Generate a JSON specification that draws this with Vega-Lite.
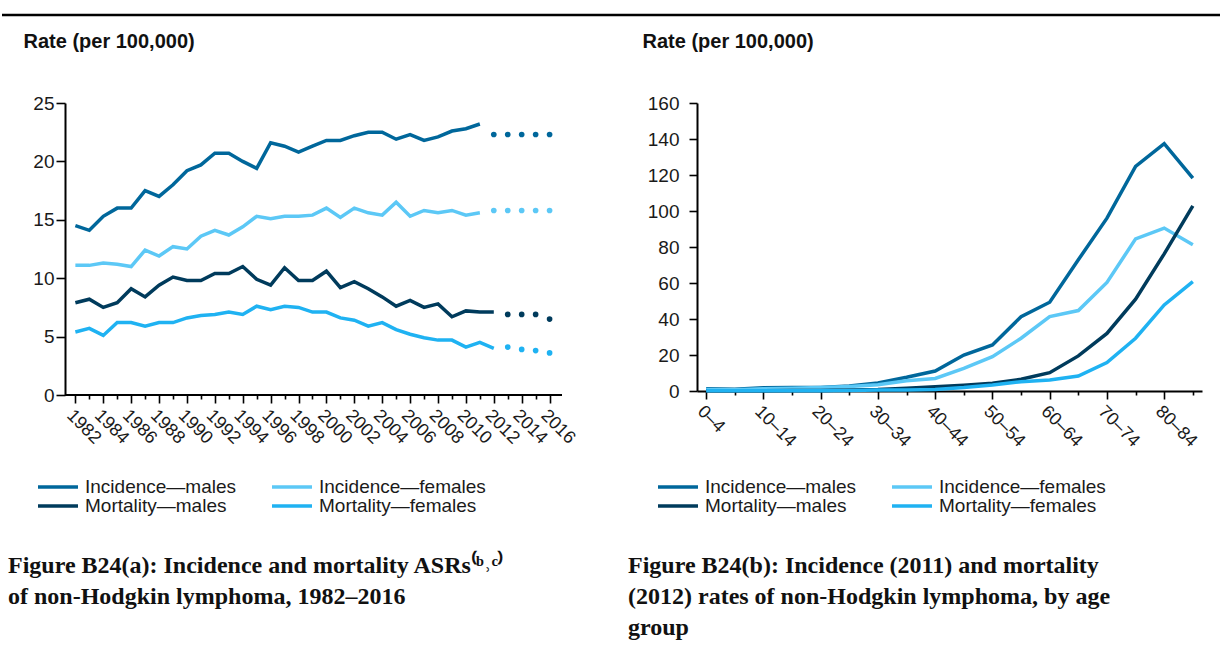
{
  "$schema": "https://vega.github.io/schema/vega-lite/v6.json",
  "background": "white",
  "padding": {"top": 13, "left": 0, "right": 0, "bottom": 0},
  "config": {
    "font": "Liberation Sans",
    "view": {"stroke": null},
    "axis": {
      "labelColor": "#1a1a1a",
      "labelFontSize": 19,
      "labelFont": "Liberation Sans",
      "labelOverlap": false,
      "domainColor": "#000000",
      "domainWidth": 2,
      "tickColor": "#000000",
      "tickWidth": 1.6,
      "grid": false
    },
    "legend": {
      "labelFont": "Liberation Sans",
      "labelFontSize": 19,
      "labelColor": "#1a1a1a"
    }
  },
  "datasets": {
    "trend": [
      {"Year": 1982, "Series": "Incidence—males", "Rate": 14.5},
      {"Year": 1983, "Series": "Incidence—males", "Rate": 14.1},
      {"Year": 1984, "Series": "Incidence—males", "Rate": 15.3},
      {"Year": 1985, "Series": "Incidence—males", "Rate": 16.0},
      {"Year": 1986, "Series": "Incidence—males", "Rate": 16.0},
      {"Year": 1987, "Series": "Incidence—males", "Rate": 17.5},
      {"Year": 1988, "Series": "Incidence—males", "Rate": 17.0},
      {"Year": 1989, "Series": "Incidence—males", "Rate": 18.0},
      {"Year": 1990, "Series": "Incidence—males", "Rate": 19.2},
      {"Year": 1991, "Series": "Incidence—males", "Rate": 19.7},
      {"Year": 1992, "Series": "Incidence—males", "Rate": 20.7},
      {"Year": 1993, "Series": "Incidence—males", "Rate": 20.7},
      {"Year": 1994, "Series": "Incidence—males", "Rate": 20.0},
      {"Year": 1995, "Series": "Incidence—males", "Rate": 19.4},
      {"Year": 1996, "Series": "Incidence—males", "Rate": 21.6},
      {"Year": 1997, "Series": "Incidence—males", "Rate": 21.3},
      {"Year": 1998, "Series": "Incidence—males", "Rate": 20.8},
      {"Year": 1999, "Series": "Incidence—males", "Rate": 21.3},
      {"Year": 2000, "Series": "Incidence—males", "Rate": 21.8},
      {"Year": 2001, "Series": "Incidence—males", "Rate": 21.8},
      {"Year": 2002, "Series": "Incidence—males", "Rate": 22.2},
      {"Year": 2003, "Series": "Incidence—males", "Rate": 22.5},
      {"Year": 2004, "Series": "Incidence—males", "Rate": 22.5},
      {"Year": 2005, "Series": "Incidence—males", "Rate": 21.9},
      {"Year": 2006, "Series": "Incidence—males", "Rate": 22.3},
      {"Year": 2007, "Series": "Incidence—males", "Rate": 21.8},
      {"Year": 2008, "Series": "Incidence—males", "Rate": 22.1},
      {"Year": 2009, "Series": "Incidence—males", "Rate": 22.6},
      {"Year": 2010, "Series": "Incidence—males", "Rate": 22.8},
      {"Year": 2011, "Series": "Incidence—males", "Rate": 23.2},
      {"Year": 1982, "Series": "Incidence—females", "Rate": 11.1},
      {"Year": 1983, "Series": "Incidence—females", "Rate": 11.1},
      {"Year": 1984, "Series": "Incidence—females", "Rate": 11.3},
      {"Year": 1985, "Series": "Incidence—females", "Rate": 11.2},
      {"Year": 1986, "Series": "Incidence—females", "Rate": 11.0},
      {"Year": 1987, "Series": "Incidence—females", "Rate": 12.4},
      {"Year": 1988, "Series": "Incidence—females", "Rate": 11.9},
      {"Year": 1989, "Series": "Incidence—females", "Rate": 12.7},
      {"Year": 1990, "Series": "Incidence—females", "Rate": 12.5},
      {"Year": 1991, "Series": "Incidence—females", "Rate": 13.6},
      {"Year": 1992, "Series": "Incidence—females", "Rate": 14.1},
      {"Year": 1993, "Series": "Incidence—females", "Rate": 13.7},
      {"Year": 1994, "Series": "Incidence—females", "Rate": 14.4},
      {"Year": 1995, "Series": "Incidence—females", "Rate": 15.3},
      {"Year": 1996, "Series": "Incidence—females", "Rate": 15.1},
      {"Year": 1997, "Series": "Incidence—females", "Rate": 15.3},
      {"Year": 1998, "Series": "Incidence—females", "Rate": 15.3},
      {"Year": 1999, "Series": "Incidence—females", "Rate": 15.4},
      {"Year": 2000, "Series": "Incidence—females", "Rate": 16.0},
      {"Year": 2001, "Series": "Incidence—females", "Rate": 15.2},
      {"Year": 2002, "Series": "Incidence—females", "Rate": 16.0},
      {"Year": 2003, "Series": "Incidence—females", "Rate": 15.6},
      {"Year": 2004, "Series": "Incidence—females", "Rate": 15.4},
      {"Year": 2005, "Series": "Incidence—females", "Rate": 16.5},
      {"Year": 2006, "Series": "Incidence—females", "Rate": 15.3},
      {"Year": 2007, "Series": "Incidence—females", "Rate": 15.8},
      {"Year": 2008, "Series": "Incidence—females", "Rate": 15.6},
      {"Year": 2009, "Series": "Incidence—females", "Rate": 15.8},
      {"Year": 2010, "Series": "Incidence—females", "Rate": 15.4},
      {"Year": 2011, "Series": "Incidence—females", "Rate": 15.6},
      {"Year": 1982, "Series": "Mortality—males", "Rate": 7.9},
      {"Year": 1983, "Series": "Mortality—males", "Rate": 8.2},
      {"Year": 1984, "Series": "Mortality—males", "Rate": 7.5},
      {"Year": 1985, "Series": "Mortality—males", "Rate": 7.9},
      {"Year": 1986, "Series": "Mortality—males", "Rate": 9.1},
      {"Year": 1987, "Series": "Mortality—males", "Rate": 8.4},
      {"Year": 1988, "Series": "Mortality—males", "Rate": 9.4},
      {"Year": 1989, "Series": "Mortality—males", "Rate": 10.1},
      {"Year": 1990, "Series": "Mortality—males", "Rate": 9.8},
      {"Year": 1991, "Series": "Mortality—males", "Rate": 9.8},
      {"Year": 1992, "Series": "Mortality—males", "Rate": 10.4},
      {"Year": 1993, "Series": "Mortality—males", "Rate": 10.4},
      {"Year": 1994, "Series": "Mortality—males", "Rate": 11.0},
      {"Year": 1995, "Series": "Mortality—males", "Rate": 9.9},
      {"Year": 1996, "Series": "Mortality—males", "Rate": 9.4},
      {"Year": 1997, "Series": "Mortality—males", "Rate": 10.9},
      {"Year": 1998, "Series": "Mortality—males", "Rate": 9.8},
      {"Year": 1999, "Series": "Mortality—males", "Rate": 9.8},
      {"Year": 2000, "Series": "Mortality—males", "Rate": 10.6},
      {"Year": 2001, "Series": "Mortality—males", "Rate": 9.2},
      {"Year": 2002, "Series": "Mortality—males", "Rate": 9.7},
      {"Year": 2003, "Series": "Mortality—males", "Rate": 9.1},
      {"Year": 2004, "Series": "Mortality—males", "Rate": 8.4},
      {"Year": 2005, "Series": "Mortality—males", "Rate": 7.6},
      {"Year": 2006, "Series": "Mortality—males", "Rate": 8.1},
      {"Year": 2007, "Series": "Mortality—males", "Rate": 7.5},
      {"Year": 2008, "Series": "Mortality—males", "Rate": 7.8},
      {"Year": 2009, "Series": "Mortality—males", "Rate": 6.7},
      {"Year": 2010, "Series": "Mortality—males", "Rate": 7.2},
      {"Year": 2011, "Series": "Mortality—males", "Rate": 7.1},
      {"Year": 2012, "Series": "Mortality—males", "Rate": 7.1},
      {"Year": 1982, "Series": "Mortality—females", "Rate": 5.4},
      {"Year": 1983, "Series": "Mortality—females", "Rate": 5.7},
      {"Year": 1984, "Series": "Mortality—females", "Rate": 5.1},
      {"Year": 1985, "Series": "Mortality—females", "Rate": 6.2},
      {"Year": 1986, "Series": "Mortality—females", "Rate": 6.2},
      {"Year": 1987, "Series": "Mortality—females", "Rate": 5.9},
      {"Year": 1988, "Series": "Mortality—females", "Rate": 6.2},
      {"Year": 1989, "Series": "Mortality—females", "Rate": 6.2},
      {"Year": 1990, "Series": "Mortality—females", "Rate": 6.6},
      {"Year": 1991, "Series": "Mortality—females", "Rate": 6.8},
      {"Year": 1992, "Series": "Mortality—females", "Rate": 6.9},
      {"Year": 1993, "Series": "Mortality—females", "Rate": 7.1},
      {"Year": 1994, "Series": "Mortality—females", "Rate": 6.9},
      {"Year": 1995, "Series": "Mortality—females", "Rate": 7.6},
      {"Year": 1996, "Series": "Mortality—females", "Rate": 7.3},
      {"Year": 1997, "Series": "Mortality—females", "Rate": 7.6},
      {"Year": 1998, "Series": "Mortality—females", "Rate": 7.5},
      {"Year": 1999, "Series": "Mortality—females", "Rate": 7.1},
      {"Year": 2000, "Series": "Mortality—females", "Rate": 7.1},
      {"Year": 2001, "Series": "Mortality—females", "Rate": 6.6},
      {"Year": 2002, "Series": "Mortality—females", "Rate": 6.4},
      {"Year": 2003, "Series": "Mortality—females", "Rate": 5.9},
      {"Year": 2004, "Series": "Mortality—females", "Rate": 6.2},
      {"Year": 2005, "Series": "Mortality—females", "Rate": 5.6},
      {"Year": 2006, "Series": "Mortality—females", "Rate": 5.2},
      {"Year": 2007, "Series": "Mortality—females", "Rate": 4.9},
      {"Year": 2008, "Series": "Mortality—females", "Rate": 4.7},
      {"Year": 2009, "Series": "Mortality—females", "Rate": 4.7},
      {"Year": 2010, "Series": "Mortality—females", "Rate": 4.1},
      {"Year": 2011, "Series": "Mortality—females", "Rate": 4.5},
      {"Year": 2012, "Series": "Mortality—females", "Rate": 4.0}
    ],
    "projected": [
      {"Year": 2012, "Series": "Incidence—males", "Rate": 22.3},
      {"Year": 2013, "Series": "Incidence—males", "Rate": 22.3},
      {"Year": 2014, "Series": "Incidence—males", "Rate": 22.3},
      {"Year": 2015, "Series": "Incidence—males", "Rate": 22.3},
      {"Year": 2016, "Series": "Incidence—males", "Rate": 22.3},
      {"Year": 2012, "Series": "Incidence—females", "Rate": 15.8},
      {"Year": 2013, "Series": "Incidence—females", "Rate": 15.8},
      {"Year": 2014, "Series": "Incidence—females", "Rate": 15.8},
      {"Year": 2015, "Series": "Incidence—females", "Rate": 15.8},
      {"Year": 2016, "Series": "Incidence—females", "Rate": 15.8},
      {"Year": 2013, "Series": "Mortality—males", "Rate": 6.9},
      {"Year": 2014, "Series": "Mortality—males", "Rate": 6.9},
      {"Year": 2015, "Series": "Mortality—males", "Rate": 6.9},
      {"Year": 2016, "Series": "Mortality—males", "Rate": 6.5},
      {"Year": 2013, "Series": "Mortality—females", "Rate": 4.1},
      {"Year": 2014, "Series": "Mortality—females", "Rate": 3.9},
      {"Year": 2015, "Series": "Mortality—females", "Rate": 3.8},
      {"Year": 2016, "Series": "Mortality—females", "Rate": 3.6}
    ],
    "baseline": [
      {"Year": 1981.26, "YearEnd": 2016.89, "Rate": 0}
    ],
    "byAge": [
      {"Age": "0–4", "Series": "Incidence—males", "Rate": 1.2},
      {"Age": "5–9", "Series": "Incidence—males", "Rate": 1.0},
      {"Age": "10–14", "Series": "Incidence—males", "Rate": 1.8},
      {"Age": "15–19", "Series": "Incidence—males", "Rate": 1.9},
      {"Age": "20–24", "Series": "Incidence—males", "Rate": 2.0},
      {"Age": "25–29", "Series": "Incidence—males", "Rate": 2.8},
      {"Age": "30–34", "Series": "Incidence—males", "Rate": 4.5},
      {"Age": "35–39", "Series": "Incidence—males", "Rate": 7.6},
      {"Age": "40–44", "Series": "Incidence—males", "Rate": 11.1},
      {"Age": "45–49", "Series": "Incidence—males", "Rate": 20.0},
      {"Age": "50–54", "Series": "Incidence—males", "Rate": 25.6},
      {"Age": "55–59", "Series": "Incidence—males", "Rate": 41.3},
      {"Age": "60–64", "Series": "Incidence—males", "Rate": 49.3},
      {"Age": "65–69", "Series": "Incidence—males", "Rate": 72.9},
      {"Age": "70–74", "Series": "Incidence—males", "Rate": 96.0},
      {"Age": "75–79", "Series": "Incidence—males", "Rate": 124.8},
      {"Age": "80–84", "Series": "Incidence—males", "Rate": 137.4},
      {"Age": "85+", "Series": "Incidence—males", "Rate": 118.3},
      {"Age": "0–4", "Series": "Incidence—females", "Rate": 0.8},
      {"Age": "5–9", "Series": "Incidence—females", "Rate": 0.7},
      {"Age": "10–14", "Series": "Incidence—females", "Rate": 1.2},
      {"Age": "15–19", "Series": "Incidence—females", "Rate": 1.5},
      {"Age": "20–24", "Series": "Incidence—females", "Rate": 2.0},
      {"Age": "25–29", "Series": "Incidence—females", "Rate": 2.5},
      {"Age": "30–34", "Series": "Incidence—females", "Rate": 3.5},
      {"Age": "35–39", "Series": "Incidence—females", "Rate": 5.7},
      {"Age": "40–44", "Series": "Incidence—females", "Rate": 7.0},
      {"Age": "45–49", "Series": "Incidence—females", "Rate": 12.6},
      {"Age": "50–54", "Series": "Incidence—females", "Rate": 19.1},
      {"Age": "55–59", "Series": "Incidence—females", "Rate": 29.3},
      {"Age": "60–64", "Series": "Incidence—females", "Rate": 41.3},
      {"Age": "65–69", "Series": "Incidence—females", "Rate": 44.7},
      {"Age": "70–74", "Series": "Incidence—females", "Rate": 60.3},
      {"Age": "75–79", "Series": "Incidence—females", "Rate": 84.5},
      {"Age": "80–84", "Series": "Incidence—females", "Rate": 90.5},
      {"Age": "85+", "Series": "Incidence—females", "Rate": 81.2},
      {"Age": "0–4", "Series": "Mortality—males", "Rate": 0.1},
      {"Age": "5–9", "Series": "Mortality—males", "Rate": 0.1},
      {"Age": "10–14", "Series": "Mortality—males", "Rate": 0.2},
      {"Age": "15–19", "Series": "Mortality—males", "Rate": 0.3},
      {"Age": "20–24", "Series": "Mortality—males", "Rate": 0.3},
      {"Age": "25–29", "Series": "Mortality—males", "Rate": 0.5},
      {"Age": "30–34", "Series": "Mortality—males", "Rate": 0.8},
      {"Age": "35–39", "Series": "Mortality—males", "Rate": 1.5},
      {"Age": "40–44", "Series": "Mortality—males", "Rate": 2.4},
      {"Age": "45–49", "Series": "Mortality—males", "Rate": 3.2},
      {"Age": "50–54", "Series": "Mortality—males", "Rate": 4.3},
      {"Age": "55–59", "Series": "Mortality—males", "Rate": 6.5},
      {"Age": "60–64", "Series": "Mortality—males", "Rate": 10.2},
      {"Age": "65–69", "Series": "Mortality—males", "Rate": 19.5},
      {"Age": "70–74", "Series": "Mortality—males", "Rate": 32.0},
      {"Age": "75–79", "Series": "Mortality—males", "Rate": 51.0},
      {"Age": "80–84", "Series": "Mortality—males", "Rate": 76.2},
      {"Age": "85+", "Series": "Mortality—males", "Rate": 102.9},
      {"Age": "0–4", "Series": "Mortality—females", "Rate": 0.1},
      {"Age": "5–9", "Series": "Mortality—females", "Rate": 0.1},
      {"Age": "10–14", "Series": "Mortality—females", "Rate": 0.1},
      {"Age": "15–19", "Series": "Mortality—females", "Rate": 0.2},
      {"Age": "20–24", "Series": "Mortality—females", "Rate": 0.2},
      {"Age": "25–29", "Series": "Mortality—females", "Rate": 0.3},
      {"Age": "30–34", "Series": "Mortality—females", "Rate": 0.5},
      {"Age": "35–39", "Series": "Mortality—females", "Rate": 0.6},
      {"Age": "40–44", "Series": "Mortality—females", "Rate": 0.9},
      {"Age": "45–49", "Series": "Mortality—females", "Rate": 1.9},
      {"Age": "50–54", "Series": "Mortality—females", "Rate": 3.3},
      {"Age": "55–59", "Series": "Mortality—females", "Rate": 5.2},
      {"Age": "60–64", "Series": "Mortality—females", "Rate": 6.1},
      {"Age": "65–69", "Series": "Mortality—females", "Rate": 8.3},
      {"Age": "70–74", "Series": "Mortality—females", "Rate": 15.8},
      {"Age": "75–79", "Series": "Mortality—females", "Rate": 29.3},
      {"Age": "80–84", "Series": "Mortality—females", "Rate": 47.8},
      {"Age": "85+", "Series": "Mortality—females", "Rate": 60.8}
    ]
  },
  "spacing": 14,
  "vconcat": [
    {
      "width": 1220,
      "height": 1,
      "data": {"values": [{"rule": "header"}]},
      "mark": {"type": "rule", "color": "#000000", "strokeWidth": 2.5},
      "encoding": {
        "y": {"datum": 1, "type": "quantitative", "axis": null, "scale": {"domain": [0, 1]}}
      }
    },
    {
      "bounds": "flush",
      "spacing": 135,
      "resolve": {"legend": {"color": "independent", "strokeWidth": "independent"}},
      "hconcat": [
        {
          "width": 560,
          "height": 292,
          "title": {
            "text": ["Figure B24(a): Incidence and mortality ASRs⁽ᵇ˒ᶜ⁾", "of non-Hodgkin lymphoma, 1982–2016"],
            "orient": "bottom",
            "anchor": "start",
            "frame": "group",
            "dx": 6,
            "offset": 38,
            "font": "Liberation Serif",
            "fontSize": 24,
            "fontWeight": "bold",
            "color": "#111111",
            "lineHeight": 31
          },
          "encoding": {
            "x": {
              "field": "Year",
              "type": "quantitative",
              "scale": {"domain": [1976.74, 2016.89], "nice": false, "zero": false},
              "axis": {
                "title": null,
                "domain": false,
                "values": [1982, 1983, 1984, 1985, 1986, 1987, 1988, 1989, 1990, 1991, 1992, 1993, 1994, 1995, 1996, 1997, 1998, 1999, 2000, 2001, 2002, 2003, 2004, 2005, 2006, 2007, 2008, 2009, 2010, 2011, 2012, 2013, 2014, 2015, 2016],
                "format": "d",
                "labelExpr": "datum.value % 2 === 0 ? datum.label : ''",
                "labelAngle": 45,
                "labelFontSize": 18,
                "labelPadding": 3,
                "labelOverlap": false,
                "labelFlush": false,
                "tickSize": {"condition": {"test": "datum.value % 2 === 0", "value": 8}, "value": 4}
              }
            },
            "y": {
              "field": "Rate",
              "type": "quantitative",
              "scale": {"domain": [0, 25], "nice": false},
              "axis": {
                "offset": -63,
                "values": [0, 5, 10, 15, 20, 25],
                "title": "Rate (per 100,000)",
                "titleAngle": 0,
                "titleAlign": "left",
                "titleBaseline": "alphabetic",
                "titleX": -42,
                "titleY": -56,
                "titleFont": "Liberation Sans",
                "titleFontSize": 20,
                "titleFontWeight": "bold",
                "titleColor": "#111111",
                "tickSize": 9,
                "labelPadding": 2
              }
            }
          },
          "layer": [
            {
              "data": {"name": "trend"},
              "mark": {"type": "line", "strokeCap": "butt"},
              "encoding": {
                "color": {
                  "field": "Series",
                  "type": "nominal",
                  "scale": {
                    "domain": ["Incidence—males", "Incidence—females", "Mortality—males", "Mortality—females"],
                    "range": ["#00679b", "#5cc8f6", "#003b5c", "#1fb2f2"]
                  },
                  "legend": {
                    "title": null,
                    "orient": "none",
                    "legendX": 34,
                    "legendY": 375,
                    "columns": 2,
                    "values": ["Incidence—males", "Mortality—males", "Incidence—females", "Mortality—females"],
                    "symbolType": "stroke",
                    "symbolSize": 1600,
                    "clipHeight": 18,
                    "labelOffset": 5,
                    "rowPadding": 0,
                    "columnPadding": 33,
                    "labelLimit": 0
                  }
                },
                "strokeWidth": {
                  "field": "Series",
                  "type": "nominal",
                  "scale": {
                    "domain": ["Incidence—males", "Incidence—females", "Mortality—males", "Mortality—females"],
                    "range": [3.5, 3.5, 5, 5]
                  },
                  "legend": {
                    "title": null,
                    "orient": "none",
                    "legendX": 34,
                    "legendY": 375,
                    "columns": 2,
                    "values": ["Incidence—males", "Mortality—males", "Incidence—females", "Mortality—females"],
                    "symbolType": "stroke",
                    "symbolSize": 1600,
                    "clipHeight": 18,
                    "labelOffset": 5,
                    "rowPadding": 0,
                    "columnPadding": 33,
                    "labelLimit": 0
                  }
                }
              }
            },
            {
              "data": {"name": "projected"},
              "mark": {"type": "point", "filled": true, "opacity": 1},
              "encoding": {
                "color": {"field": "Series", "type": "nominal", "legend": null},
                "size": {
                  "field": "Series",
                  "type": "nominal",
                  "scale": {
                    "domain": ["Incidence—males", "Incidence—females", "Mortality—males", "Mortality—females"],
                    "range": [32, 32, 100, 100]
                  },
                  "legend": null
                }
              }
            },
            {
              "data": {"name": "baseline"},
              "mark": {"type": "rule", "color": "#000000", "strokeWidth": 2},
              "encoding": {
                "x2": {"field": "YearEnd"}
              }
            }
          ]
        },
        {
          "width": 505,
          "height": 288,
          "data": {"name": "byAge"},
          "title": {
            "text": ["Figure B24(b): Incidence (2011) and mortality", "(2012) rates of non-Hodgkin lymphoma, by age", "group"],
            "orient": "bottom",
            "anchor": "start",
            "frame": "group",
            "dx": -69,
            "offset": 38,
            "font": "Liberation Serif",
            "fontSize": 24,
            "fontWeight": "bold",
            "color": "#111111",
            "lineHeight": 31
          },
          "mark": {"type": "line", "strokeCap": "butt"},
          "encoding": {
            "x": {
              "field": "Age",
              "type": "ordinal",
              "sort": ["0–4", "5–9", "10–14", "15–19", "20–24", "25–29", "30–34", "35–39", "40–44", "45–49", "50–54", "55–59", "60–64", "65–69", "70–74", "75–79", "80–84", "85+"],
              "scale": {"type": "point", "padding": 0.32},
              "axis": {
                "title": null,
                "labelExpr": "indexof(['0–4','10–14','20–24','30–34','40–44','50–54','60–64','70–74','80–84'], datum.label) >= 0 ? datum.label : ''",
                "labelAngle": 45,
                "labelFontSize": 18,
                "labelPadding": 3,
                "labelOverlap": false,
                "labelFlush": false,
                "tickSize": {"condition": {"test": "indexof(['0–4','10–14','20–24','30–34','40–44','50–54','60–64','70–74','80–84'], datum.value) >= 0", "value": 8}, "value": 4}
              }
            },
            "y": {
              "field": "Rate",
              "type": "quantitative",
              "scale": {"domain": [0, 160], "nice": false},
              "axis": {
                "values": [0, 20, 40, 60, 80, 100, 120, 140, 160],
                "title": "Rate (per 100,000)",
                "titleAngle": 0,
                "titleAlign": "left",
                "titleBaseline": "alphabetic",
                "titleX": -55,
                "titleY": -56,
                "titleFont": "Liberation Sans",
                "titleFontSize": 20,
                "titleFontWeight": "bold",
                "titleColor": "#111111",
                "tickSize": 8,
                "labelPadding": 10
              }
            },
            "color": {
              "field": "Series",
              "type": "nominal",
              "scale": {
                "domain": ["Incidence—males", "Incidence—females", "Mortality—males", "Mortality—females"],
                "range": ["#00679b", "#5cc8f6", "#003b5c", "#1fb2f2"]
              },
              "legend": {
                "title": null,
                "orient": "none",
                "legendX": -41,
                "legendY": 375,
                "columns": 2,
                "values": ["Incidence—males", "Mortality—males", "Incidence—females", "Mortality—females"],
                "symbolType": "stroke",
                "symbolSize": 1600,
                "clipHeight": 18,
                "labelOffset": 5,
                "rowPadding": 0,
                "columnPadding": 33,
                "labelLimit": 0
              }
            },
            "strokeWidth": {
              "field": "Series",
              "type": "nominal",
              "scale": {
                "domain": ["Incidence—males", "Incidence—females", "Mortality—males", "Mortality—females"],
                "range": [3.5, 3.5, 5, 5]
              },
              "legend": {
                "title": null,
                "orient": "none",
                "legendX": -41,
                "legendY": 375,
                "columns": 2,
                "values": ["Incidence—males", "Mortality—males", "Incidence—females", "Mortality—females"],
                "symbolType": "stroke",
                "symbolSize": 1600,
                "clipHeight": 18,
                "labelOffset": 5,
                "rowPadding": 0,
                "columnPadding": 33,
                "labelLimit": 0
              }
            }
          }
        }
      ]
    }
  ]
}
